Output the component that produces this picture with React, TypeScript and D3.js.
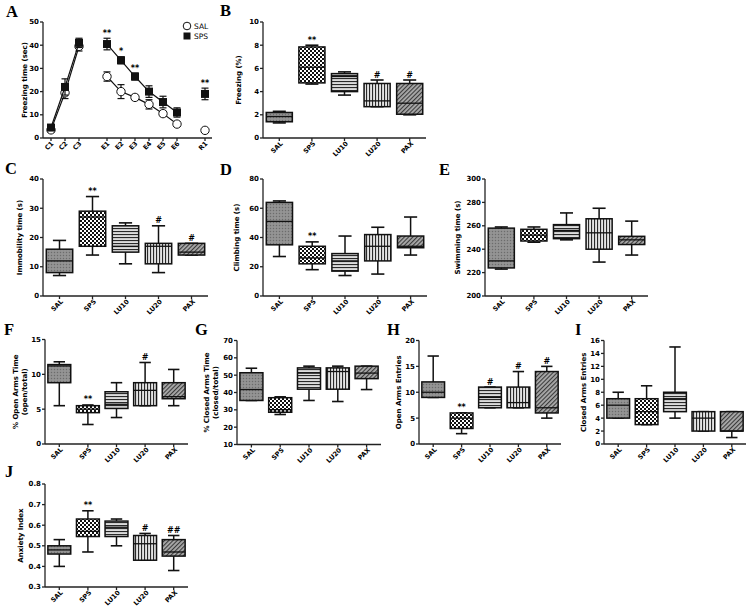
import React from "react";
import * as d3 from "d3";

// ---------- DATA ----------
const groups = ["SAL", "SPS", "LU10", "LU20", "PAX"];

// Panel A (mean, sem)
const timepoints = ["C1", "C2", "C3", "E1", "E2", "E3", "E4", "E5", "E6", "R1"];
const salMean = [3.5, 19.5, 39.5, 26.5, 20, 17.5, 14.5, 10.5, 6, 3.3];
const salSem = [1, 2.5, 2, 2, 3, 1, 2, 1, 1, 0.8];
const spsMean = [4.5, 22, 41, 40.5, 33.5, 26.5, 20, 15.5, 11, 19];
const spsSem = [1, 3.5, 2, 2.5, 1.5, 1.5, 2.5, 2.5, 2, 2.5];
const spsStars = ["", "", "", "**", "*", "**", "", "", "", "**"];

// Box plots: [min, q1, median, q3, max]
const freezingPct = [
  [1.3, 1.4, 1.85, 2.2, 2.3],
  [4.65, 4.75, 6.1, 7.85, 8.0],
  [3.7, 4.0, 5.3, 5.55, 5.7],
  [2.7, 2.7, 3.2, 4.7, 5.0],
  [2.0, 2.05, 3.0, 4.7, 5.0],
];
const freezingSig = ["", "**", "", "#", "#"];

const immobility = [
  [7, 8, 12, 16, 19],
  [14, 17, 27, 29, 34],
  [11, 15, 17, 24, 25],
  [8, 11, 17, 18, 24],
  [14, 14, 15, 18, 18],
];
const immobilitySig = ["", "**", "", "#", "#"];

const climbing = [
  [27, 35, 51, 64, 65],
  [18, 22, 26, 34, 37],
  [14, 17, 24, 29, 41],
  [15, 24, 34, 42, 47],
  [28, 33, 34, 41, 54],
];
const climbingSig = ["", "**", "", "", ""];

const swimming = [
  [223, 224, 230, 258, 259],
  [246, 247, 252, 257, 259],
  [248, 249, 256, 261, 271],
  [229, 240, 254, 266, 275],
  [235, 244, 248, 251, 264],
];
const swimmingSig = ["", "", "", "", ""];

const openArmsTime = [
  [5.5, 8.8, 11.2, 11.4, 11.8],
  [2.8, 4.5, 5.0, 5.5, 5.6],
  [3.8, 5.1, 5.7, 7.5, 8.8],
  [5.5, 5.5, 7.7, 8.8, 11.7],
  [5.5, 6.5, 6.8, 8.8, 10.7],
];
const openArmsTimeSig = ["", "**", "", "#", ""];

const closedArmsTime = [
  [35.4, 35.4, 41.7, 51.4, 54],
  [27.3, 28.6, 30.1, 37.0, 37.5],
  [35.4, 41.9, 51.2, 54.2, 55.2],
  [34.8, 41.9, 52.1, 54.2, 55.2],
  [41.7, 48, 51.2, 55.2, 55.2],
];
const closedArmsTimeSig = ["", "", "", "", ""];

const openEntries = [
  [9, 9, 10, 12, 17],
  [2, 3, 5, 6, 6],
  [7, 7, 9, 11, 11],
  [7, 7, 8, 11, 14],
  [5, 6, 7, 14, 15],
];
const openEntriesSig = ["", "**", "#", "#", "#"];

const closedEntries = [
  [4, 4, 6, 7, 8],
  [3, 3, 5, 7, 9],
  [4, 5, 7, 8, 15],
  [2, 2, 4, 5, 5],
  [1, 2, 2, 5, 5],
];
const closedEntriesSig = ["", "", "", "", ""];

const anxiety = [
  [0.4, 0.46, 0.48, 0.5, 0.53],
  [0.47, 0.545, 0.57, 0.63, 0.67],
  [0.5, 0.545, 0.59, 0.62, 0.63],
  [0.43, 0.43, 0.51, 0.55, 0.56],
  [0.38, 0.45, 0.47, 0.53, 0.55],
];
const anxietySig = ["", "**", "", "#", "##"];

// ---------- STYLE ----------
const FONT = "'DejaVu Sans', Verdana, sans-serif";
const SERIF = "'Liberation Serif', 'Times New Roman', serif";
const patIds = ["patSAL", "patSPS", "patLU10", "patLU20", "patPAX"];
const AX = 1.3;

type BoxCfg = {
  letter: string; lx: number; ly: number;
  x0: number; x1: number; yTop: number; yBot: number;
  domain: [number, number]; tickStep: number; fmt?: string;
  titles: string[]; titleX: number[];
  data: number[][]; sig: string[];
};

const boxPanels: BoxCfg[] = [
  { letter: "B", lx: 220, ly: 16, x0: 263, x1: 426, yTop: 22, yBot: 138, domain: [0, 10], tickStep: 2,
    titles: ["Freezing (%)"], titleX: [238], data: freezingPct, sig: freezingSig },
  { letter: "C", lx: 5, ly: 174, x0: 43, x1: 208, yTop: 179, yBot: 296, domain: [0, 40], tickStep: 10,
    titles: ["Immobility time (s)"], titleX: [19], data: immobility, sig: immobilitySig },
  { letter: "D", lx: 220, ly: 175, x0: 263, x1: 427, yTop: 179, yBot: 296, domain: [0, 80], tickStep: 20,
    titles: ["Climbing time (s)"], titleX: [236.5], data: climbing, sig: climbingSig },
  { letter: "E", lx: 439, ly: 175, x0: 485, x1: 648, yTop: 179, yBot: 296, domain: [200, 300], tickStep: 20,
    titles: ["Swimming time (s)"], titleX: [457], data: swimming, sig: swimmingSig },
  { letter: "F", lx: 4, ly: 335, x0: 45, x1: 188, yTop: 339.5, yBot: 444, domain: [0, 15], tickStep: 5,
    titles: ["% Open Arms Time", "(open/total)"], titleX: [15, 24], data: openArmsTime, sig: openArmsTimeSig },
  { letter: "G", lx: 195, ly: 335, x0: 237, x1: 381, yTop: 340.5, yBot: 444.5, domain: [10, 70], tickStep: 10,
    titles: ["% Closed Arms Time", "(closed/total)"], titleX: [206, 215.5], data: closedArmsTime, sig: closedArmsTimeSig },
  { letter: "H", lx: 387, ly: 335, x0: 419, x1: 561, yTop: 340.5, yBot: 444, domain: [0, 20], tickStep: 5,
    titles: ["Open Arms Entries"], titleX: [398.5], data: openEntries, sig: openEntriesSig },
  { letter: "I", lx: 575, ly: 335, x0: 604, x1: 746, yTop: 340.5, yBot: 444, domain: [0, 16], tickStep: 2,
    titles: ["Closed Arms Entries"], titleX: [583.5], data: closedEntries, sig: closedEntriesSig },
  { letter: "J", lx: 5, ly: 477, x0: 45, x1: 188, yTop: 484, yBot: 587, domain: [0.3, 0.8], tickStep: 0.1, fmt: ".1f",
    titles: ["Anxiety Index"], titleX: [20.5], data: anxiety, sig: anxietySig },
];

function Patterns() {
  return (
    <defs>
      <pattern id="patSAL" width="3" height="3" patternUnits="userSpaceOnUse">
        <rect width="3" height="3" fill="#8e8e8e" />
        <rect x="0" y="0" width="1" height="1" fill="#6c6c6c" />
        <rect x="1.5" y="1.5" width="1" height="1" fill="#a8a8a8" />
      </pattern>
      <pattern id="patSPS" width="4" height="4" patternUnits="userSpaceOnUse">
        <rect width="4" height="4" fill="#ffffff" />
        <rect x="0" y="0" width="2" height="2" fill="#111" />
        <rect x="2" y="2" width="2" height="2" fill="#111" />
      </pattern>
      <pattern id="patLU10" width="4" height="3" patternUnits="userSpaceOnUse">
        <rect width="4" height="3" fill="#dcdcdc" />
        <rect x="0" y="0" width="4" height="1.1" fill="#2a2a2a" />
      </pattern>
      <pattern id="patLU20" width="3" height="4" patternUnits="userSpaceOnUse">
        <rect width="3" height="4" fill="#e4e4e4" />
        <rect x="0" y="0" width="1.1" height="4" fill="#2a2a2a" />
      </pattern>
      <pattern id="patPAX" width="3" height="3" patternUnits="userSpaceOnUse" patternTransform="rotate(45)">
        <rect width="3" height="3" fill="#aaaaaa" />
        <rect x="0" y="0" width="1.1" height="3" fill="#3a3a3a" />
      </pattern>
    </defs>
  );
}

function BoxPanel({ p }: { p: BoxCfg }) {
  const x = d3.scalePoint<string>().domain(groups).range([p.x0, p.x1]).padding(0.5);
  const step = x.step();
  const bw = step * 0.8;
  const y = d3.scaleLinear().domain(p.domain).range([p.yBot, p.yTop]);
  const n = Math.round((p.domain[1] - p.domain[0]) / p.tickStep);
  const ticks = d3.range(0, n + 1).map((i) => p.domain[0] + i * p.tickStep);
  const fmt = p.fmt ? d3.format(p.fmt) : d3.format("d");
  const yc = (p.yTop + p.yBot) / 2;
  return (
    <g>
      <text x={p.lx} y={p.ly} fontFamily={SERIF} fontWeight="bold" fontSize={16.5}>{p.letter}</text>
      {p.titles.map((t, i) => (
        <text key={t} transform={`translate(${p.titleX[i] + 2.6},${yc}) rotate(-90)`} textAnchor="middle"
          fontFamily={FONT} fontWeight="bold" fontSize={7}>{t}</text>
      ))}
      <line x1={p.x0} x2={p.x0} y1={p.yTop} y2={p.yBot} stroke="#222" strokeWidth={AX} />
      <line x1={p.x0} x2={p.x1} y1={p.yBot} y2={p.yBot} stroke="#222" strokeWidth={AX} />
      {ticks.map((t) => (
        <g key={t}>
          <line x1={p.x0 - 3} x2={p.x0} y1={y(t)} y2={y(t)} stroke="#222" strokeWidth={AX} />
          <text x={p.x0 - 4} y={y(t)} dy="0.35em" textAnchor="end" fontFamily={FONT} fontWeight="bold" fontSize={7}>{fmt(t)}</text>
        </g>
      ))}
      {groups.map((g) => (
        <g key={g}>
          <line x1={x(g)} x2={x(g)} y1={p.yBot} y2={p.yBot + 3} stroke="#222" strokeWidth={AX} />
          <text transform={`translate(${(x(g) as number) + 4},${p.yBot + 6}) rotate(-45)`} textAnchor="end"
            fontFamily={FONT} fontWeight="bold" fontSize={6.5}>{g}</text>
        </g>
      ))}
      {p.data.map((d, i) => {
        const cx = x(groups[i]) as number;
        const [mn, q1, md, q3, mx] = d;
        return (
          <g key={i}>
            <line x1={cx} x2={cx} y1={y(mx)} y2={y(q3)} stroke="#111" strokeWidth={1.5} />
            <line x1={cx} x2={cx} y1={y(q1)} y2={y(mn)} stroke="#111" strokeWidth={1.5} />
            <line x1={cx - bw / 4} x2={cx + bw / 4} y1={y(mx)} y2={y(mx)} stroke="#111" strokeWidth={1.6} />
            <line x1={cx - bw / 4} x2={cx + bw / 4} y1={y(mn)} y2={y(mn)} stroke="#111" strokeWidth={1.6} />
            <rect x={cx - bw / 2} y={y(q3)} width={bw} height={Math.max(0.5, y(q1) - y(q3))}
              fill={`url(#${patIds[i]})`} stroke="#111" strokeWidth={1.5} />
            <line x1={cx - bw / 2} x2={cx + bw / 2} y1={y(md)} y2={y(md)} stroke="#111" strokeWidth={1.3} />
            {p.sig[i] && (
              <text x={cx} y={y(mx) - 2.5} textAnchor="middle" fontFamily={FONT} fontWeight="bold" fontSize={8}>{p.sig[i]}</text>
            )}
          </g>
        );
      })}
    </g>
  );
}

function PanelA() {
  const slots = ["C1", "C2", "C3", "gap1", "E1", "E2", "E3", "E4", "E5", "E6", "gap2", "R1"];
  const x = d3.scalePoint<string>().domain(slots).range([51, 205]);
  const y = d3.scaleLinear().domain([0, 50]).range([138, 22]);
  const x0 = 43, x1 = 212;
  const segs = [[0, 1, 2], [3, 4, 5, 6, 7, 8]];
  const line = d3.line<[number, number]>().x((d) => d[0]).y((d) => d[1]);
  const series = [
    { mean: salMean, sem: salSem, kind: "circle" },
    { mean: spsMean, sem: spsSem, kind: "square" },
  ];
  return (
    <g>
      <text x={6} y={17} fontFamily={SERIF} fontWeight="bold" fontSize={16.5}>A</text>
      <text transform={`translate(${26.6},${80}) rotate(-90)`} textAnchor="middle" fontFamily={FONT} fontWeight="bold" fontSize={7}>Freezing time (sec)</text>
      <line x1={x0} x2={x0} y1={22} y2={138} stroke="#222" strokeWidth={AX} />
      <line x1={x0} x2={x1} y1={138} y2={138} stroke="#222" strokeWidth={AX} />
      {d3.range(0, 51, 10).map((t) => (
        <g key={t}>
          <line x1={x0 - 3} x2={x0} y1={y(t)} y2={y(t)} stroke="#222" strokeWidth={AX} />
          <text x={x0 - 4} y={y(t)} dy="0.35em" textAnchor="end" fontFamily={FONT} fontWeight="bold" fontSize={7}>{t}</text>
        </g>
      ))}
      {timepoints.map((t) => (
        <g key={t}>
          <line x1={x(t)} x2={x(t)} y1={138} y2={141} stroke="#222" strokeWidth={AX} />
          <text transform={`translate(${(x(t) as number) + 3},${144}) rotate(-45)`} textAnchor="end" fontFamily={FONT} fontWeight="bold" fontSize={6.5}>{t}</text>
        </g>
      ))}
      {series.map((s, si) => (
        <g key={si}>
          {segs.map((seg, k) => (
            <path key={k} d={line(seg.map((i) => [x(timepoints[i]) as number, y(s.mean[i])]))!} fill="none" stroke="#111" strokeWidth={1.2} />
          ))}
          {s.mean.map((m, i) => {
            const cx = x(timepoints[i]) as number;
            return (
              <g key={i}>
                <line x1={cx} x2={cx} y1={y(m - s.sem[i])} y2={y(m + s.sem[i])} stroke="#111" strokeWidth={1.2} />
                <line x1={cx - 3.5} x2={cx + 3.5} y1={y(m + s.sem[i])} y2={y(m + s.sem[i])} stroke="#111" strokeWidth={1.2} />
                <line x1={cx - 3.5} x2={cx + 3.5} y1={y(m - s.sem[i])} y2={y(m - s.sem[i])} stroke="#111" strokeWidth={1.2} />
                {s.kind === "circle" ? (
                  <circle cx={cx} cy={y(m)} r={4.2} fill="#fff" stroke="#111" strokeWidth={1} />
                ) : (
                  <rect x={cx - 4} y={y(m) - 4} width={8} height={8} fill="#111" />
                )}
              </g>
            );
          })}
        </g>
      ))}
      {spsStars.map((s, i) => s && (
        <text key={i} x={x(timepoints[i])} y={y(spsMean[i] + spsSem[i]) - 2.5} textAnchor="middle" fontFamily={FONT} fontWeight="bold" fontSize={8}>{s}</text>
      ))}
      <circle cx={187} cy={26} r={3.8} fill="#fff" stroke="#111" strokeWidth={1} />
      <text x={194} y={28.8} fontFamily={FONT} fontSize={7.5}>SAL</text>
      <rect x={183.5} y={32.5} width={7} height={7} fill="#111" />
      <text x={194} y={38.8} fontFamily={FONT} fontSize={7.5}>SPS</text>
    </g>
  );
}

export default function App() {
  return (
    <svg width={750} height={608} style={{ position: "absolute", left: 0, top: 0, background: "#fff" }}>
      <Patterns />
      <rect width={750} height={608} fill="#fff" />
      <PanelA />
      {boxPanels.map((p) => <BoxPanel key={p.letter} p={p} />)}
    </svg>
  );
}
